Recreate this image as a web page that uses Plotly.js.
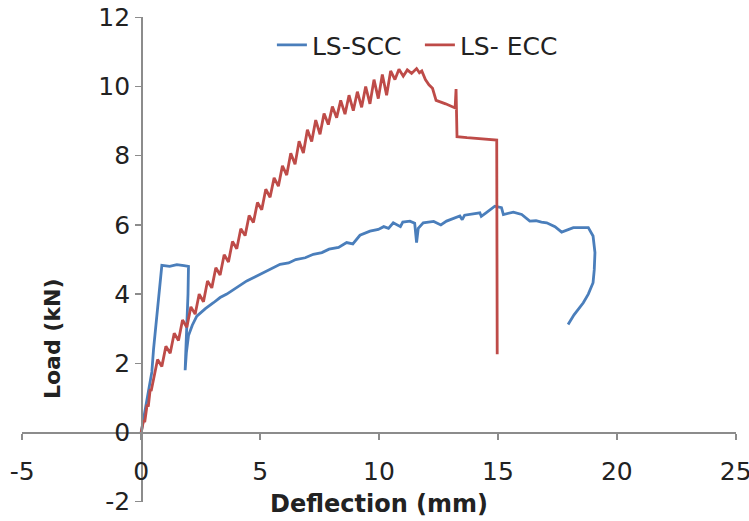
<!DOCTYPE html>
<html>
<head>
<meta charset="utf-8">
<script src="https://cdn.plot.ly/plotly-3.0.1.min.js"></script>
<style>html,body{margin:0;padding:0;background:#fff;}#chart{width:749px;height:521px;}</style>
</head>
<body>
<div id="chart"></div>
<script>
// LS-SCC (blue)
const sccX = [0,0.15,0.3,0.45,0.52,0.66,0.8,0.87,1.2,1.5,1.8,1.99,1.97,1.93,1.87,1.85,1.9,1.99,2.15,2.34,2.7,3.04,3.32,3.6,4.02,4.44,4.8,5.1,5.5,5.84,6.2,6.5,6.9,7.24,7.6,7.9,8.3,8.64,8.9,9.2,9.62,9.97,10.2,10.4,10.6,10.9,11.0,11.3,11.5,11.58,11.65,11.86,12.3,12.6,12.84,13.4,13.5,13.6,14.24,14.3,14.5,14.87,15.15,15.23,15.65,16.0,16.34,16.6,16.83,17.05,17.4,17.68,18.17,18.8,19.0,19.08,19.05,19.0,18.8,18.59,18.2,17.95];
const sccY = [0,0.6,1.2,1.75,2.4,3.36,4.33,4.83,4.8,4.85,4.82,4.8,4.0,3.0,2.2,1.8,2.3,2.8,3.1,3.36,3.58,3.75,3.9,4.0,4.18,4.38,4.5,4.6,4.75,4.86,4.9,5.0,5.05,5.15,5.2,5.3,5.35,5.49,5.45,5.7,5.82,5.87,5.95,5.9,6.06,5.95,6.08,6.11,6.05,5.49,5.9,6.06,6.1,6.0,6.11,6.26,6.15,6.28,6.35,6.25,6.35,6.54,6.5,6.3,6.37,6.3,6.11,6.12,6.08,6.06,5.95,5.79,5.92,5.92,5.68,5.2,4.7,4.33,4.0,3.75,3.4,3.12];

// LS- ECC (red)
const eccX = [0,0.1,0.15,0.25,0.3,0.38,0.42,0.52,0.69,0.87,1.04,1.22,1.39,1.57,1.74,1.92,2.09,2.27,2.44,2.62,2.79,2.97,3.14,3.32,3.49,3.67,3.84,4.02,4.19,4.37,4.54,4.72,4.89,5.07,5.24,5.42,5.59,5.77,5.94,6.12,6.29,6.47,6.64,6.82,6.99,7.17,7.34,7.52,7.69,7.87,8.04,8.22,8.39,8.57,8.74,8.92,9.09,9.27,9.44,9.62,9.79,9.97,10.14,10.32,10.49,10.67,10.84,11.02,11.19,11.37,11.58,11.7,11.8,11.95,12.1,12.25,12.4,12.8,13.2,13.24,13.28,13.7,14.1,14.5,14.95,14.97];
const eccY = [0,0.35,0.3,0.8,0.75,1.25,1.2,1.53,2.11,1.91,2.49,2.29,2.87,2.66,3.25,3.04,3.63,3.42,4.0,3.78,4.38,4.18,4.76,4.55,5.14,4.93,5.52,5.31,5.89,5.69,6.27,6.07,6.65,6.44,7.03,6.8,7.36,7.12,7.71,7.44,8.07,7.75,8.42,8.08,8.75,8.41,9.03,8.62,9.22,8.9,9.42,9.1,9.6,9.2,9.75,9.3,9.85,9.4,10.0,9.5,10.2,9.65,10.35,9.75,10.45,10.2,10.5,10.3,10.48,10.38,10.52,10.4,10.45,10.2,10.05,9.95,9.6,9.5,9.38,9.93,8.55,8.52,8.5,8.47,8.45,2.26];

const xTicks = [-5,0,5,10,15,20,25];
const yTicks = [-2,0,2,4,6,8,10,12];

const FONT = '"DejaVu Sans", "Open Sans", sans-serif';
const AXIS_GRAY = '#8c8c8c';

const traces = [
  {x: sccX, y: sccY, name: 'LS-SCC', type: 'scatter', mode: 'lines',
   line: {color: '#4a7ebb', width: 2.8}},
  {x: eccX, y: eccY, name: 'LS- ECC', type: 'scatter', mode: 'lines',
   line: {color: '#be4b48', width: 2.8}}
];

const layout = {
  width: 749, height: 521,
  margin: {l: 22, r: 13, t: 17, b: 19},
  paper_bgcolor: '#ffffff', plot_bgcolor: '#ffffff',
  font: {family: FONT, color: '#222'},
  showlegend: true,
  legend: {orientation: 'h', x: 0.35, xanchor: 'left', y: 0.942, yanchor: 'middle',
           font: {size: 25, family: FONT, color: '#222'}, bgcolor: 'rgba(0,0,0,0)',
           entrywidth: 103, entrywidthmode: 'pixels', tracegroupgap: 0},
  xaxis: {
    range: [-5.01, 25.01], tickvals: xTicks, ticktext: xTicks.map(String),
    anchor: 'free', position: 2.01/14.02,
    showgrid: false, zeroline: false, showline: true, linecolor: AXIS_GRAY, linewidth: 1.5,
    ticks: 'outside', ticklen: 6, tickcolor: AXIS_GRAY, tickwidth: 1.5,
    ticklabelstandoff: 10, ticklabeloverflow: 'allow',
    tickfont: {size: 25, family: FONT, color: '#222'},
    automargin: false, fixedrange: true
  },
  yaxis: {
    range: [-2.01, 12.01], tickvals: yTicks, ticktext: yTicks.map(String),
    anchor: 'free', position: 5.01/30.02,
    showgrid: false, zeroline: false, showline: true, linecolor: AXIS_GRAY, linewidth: 1.5,
    ticks: 'outside', ticklen: 6, tickcolor: AXIS_GRAY, tickwidth: 1.5,
    ticklabeloverflow: 'allow',
    tickfont: {size: 25, family: FONT, color: '#222'},
    automargin: false, fixedrange: true
  },
  annotations: [
    {text: '<b>Load (kN)</b>', xref: 'paper', yref: 'paper', x: 0.042, y: 0.338,
     xanchor: 'center', yanchor: 'middle', textangle: -90, showarrow: false,
     font: {size: 22, family: FONT, color: '#222'}},
    {text: '<b>Deflection (mm)</b>', xref: 'paper', yref: 'paper', x: 0.5, y: -0.004,
     xanchor: 'center', yanchor: 'middle', showarrow: false,
     font: {size: 24, family: FONT, color: '#222'}}
  ]
};

Plotly.newPlot('chart', traces, layout, {displayModeBar: false, staticPlot: true});
</script>
</body>
</html>
